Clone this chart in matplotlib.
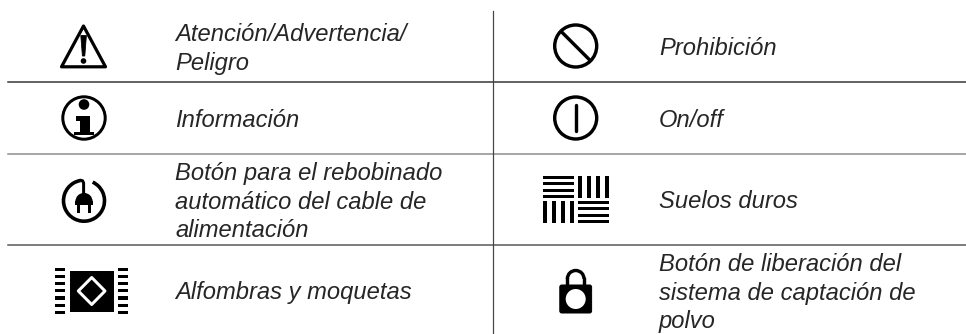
import numpy as np
import matplotlib
matplotlib.use("Agg")
import matplotlib.pyplot as plt
from matplotlib.patches import Circle, Rectangle, Polygon, Arc, FancyBboxPatch, Wedge

plt.rcParams['font.family'] = ['Liberation Sans', 'DejaVu Sans']

# texts of the table, one list per column, one inner list per row
left_labels = [
    ["Atención/Advertencia/", "Peligro"],
    ["Información"],
    ["Botón para el rebobinado", "automático del cable de", "alimentación"],
    ["Alfombras y moquetas"],
]
right_labels = [
    ["Prohibición"],
    ["On/off"],
    ["Suelos duros"],
    ["Botón de liberación del", "sistema de captación de", "polvo"],
]

# baselines of the first text line in every row, pixels from top
left_baselines = [41, 127, 180, 299]
right_baselines = [55, 127, 208, 271]
line_gap = 28.7

INK = "black"
TXT = "#262626"
PX = 0.72  # one pixel in points at dpi 100

fig = plt.figure(figsize=(9.66, 3.34), dpi=100)
ax = fig.add_axes([0, 0, 1, 1])
ax.set_xlim(0, 966)
ax.set_ylim(334, 0)
ax.axis("off")

# rules
ax.plot([8, 966], [82, 82], color="#333333", lw=1.5 * PX)
ax.plot([8, 966], [154, 154], color="#8a8a8a", lw=1.5 * PX)
ax.plot([8, 966], [244.5, 244.5], color="#555555", lw=1.5 * PX)
ax.plot([492.5, 492.5], [11, 334], color="#444444", lw=1.2 * PX)

# labels
for labels, baselines, x in [(left_labels, left_baselines, 175), (right_labels, right_baselines, 659)]:
    for lines, y0 in zip(labels, baselines):
        for i, s in enumerate(lines):
            ax.text(x, y0 + i * line_gap, s, fontsize=17.1, style="italic", color=TXT,
                    ha="left", va="baseline")


def ring(x, y, r=21, w=3.4):
    ax.add_patch(Circle((x, y), r, fill=False, ec=INK, lw=w * PX))


# warning triangle
ax.add_patch(Polygon([(83.5, 26), (61.5, 66.8), (105.5, 66.8)], closed=True, fill=False, ec=INK,
                     lw=3.2 * PX, joinstyle="round"))
ax.add_patch(Polygon([(80.8, 35.5), (86.4, 35.5), (84.8, 56), (82.4, 56)], closed=True, fc=INK, ec=INK,
                     lw=0.8 * PX, joinstyle="round"))
ax.add_patch(Circle((83.5, 61), 2.8, fc=INK, ec="none"))

# info
ring(84, 118, 21.2, 3.0)
ax.add_patch(Circle((84, 104.5), 5.3, fc=INK, ec="none"))
ax.add_patch(Rectangle((80, 116), 10, 16, fc=INK, ec="none"))
ax.add_patch(Rectangle((76, 116), 6, 4.5, fc=INK, ec="none"))
ax.add_patch(Rectangle((74, 131.5), 20, 3.5, fc=INK, ec="none"))

# plug with cable ring, going clockwise from the top right round to the cable
ax.add_patch(Arc((84, 200.7), 41, 41, theta1=-65, theta2=260, ec=INK, lw=3.6 * PX))
ax.plot([80.6, 82.6, 83.6, 83.6], [180.2, 180.8, 183, 194], color=INK, lw=3 * PX,
        solid_capstyle="round", solid_joinstyle="round")
ax.add_patch(Wedge((84, 201.5), 8.6, 180, 360, fc=INK, ec="none"))
ax.add_patch(Rectangle((75.4, 201), 17.2, 3.5, fc=INK, ec="none"))
ax.add_patch(Rectangle((77.4, 203), 3, 9.5, fc=INK, ec="none"))
ax.add_patch(Rectangle((87.6, 203), 3, 9.5, fc=INK, ec="none"))

# carpet
ax.add_patch(Rectangle((69.5, 271), 44, 40.5, fc=INK, ec="none"))
ax.add_patch(Polygon([(91.7, 277.5), (105, 291), (91.7, 304.5), (78.3, 291)], closed=True, fill=False,
                     ec="white", lw=3 * PX, joinstyle="round"))
for k in range(7):
    y = 269.3 + k * 7.17
    ax.add_patch(Rectangle((55, y - 1.6), 10, 3.2, fc=INK, ec="none"))
    ax.add_patch(Rectangle((118, y - 1.6), 10, 3.2, fc=INK, ec="none"))

# prohibition
ring(575.7, 46)
ax.plot([560.9, 590.5], [31.2, 60.8], color=INK, lw=3.4 * PX, solid_capstyle="butt")

# on/off
ring(575.7, 118)
ax.plot([575.7, 575.7], [104.5, 131], color=INK, lw=3.4 * PX, solid_capstyle="round")

# hard floor
x0, x1, x2, x3 = 542.8, 574.3, 578.3, 608.6
ya, yb, yc, yd = 176, 197.7, 201, 222.7
for k in range(4):
    ax.add_patch(Rectangle((x0, ya + k * 6.4), x1 - x0, 3, fc=INK, ec="none"))
    ax.add_patch(Rectangle((x2, yc + k * 6.4), x3 - x2, 3, fc=INK, ec="none"))
    ax.add_patch(Rectangle((x2 + k * 8.9, ya), 4, yb - ya, fc=INK, ec="none"))
    ax.add_patch(Rectangle((x0 + 0.5 + k * 9.0, yc), 4, yd - yc, fc=INK, ec="none"))

# padlock
ax.add_patch(Arc((575.7, 278.8), 16.6, 16.6, theta1=180, theta2=360, ec=INK, lw=3.4 * PX))
ax.plot([567.4, 567.4], [278.8, 286], color=INK, lw=3.4 * PX)
ax.plot([584, 584], [278.8, 286], color=INK, lw=3.4 * PX)
ax.add_patch(FancyBboxPatch((559.8, 285), 31.8, 28, boxstyle="round,pad=0,rounding_size=2",
                            fc=INK, ec=INK, lw=1 * PX))
ax.add_patch(Circle((575.7, 299), 10, fc="white", ec="none"))

fig.savefig("out.png", dpi=100)
